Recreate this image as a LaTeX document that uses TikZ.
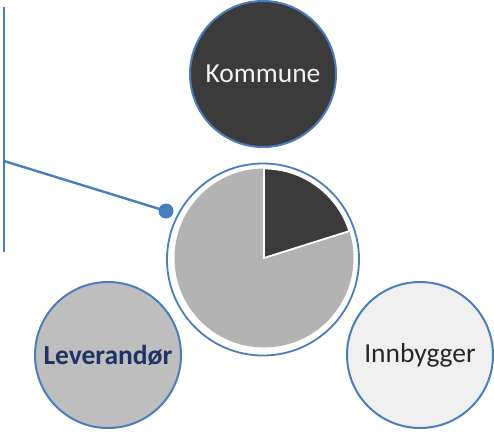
\documentclass[tikz,border=0pt]{standalone}
\usepackage{fontspec}
\setmainfont{Carlito}
\definecolor{officeblue}{HTML}{4A7EBB}
\definecolor{darkfill}{HTML}{3B3B3B}
\definecolor{piegray}{HTML}{B3B3B3}
\definecolor{levfill}{HTML}{BEBEBE}
\definecolor{innfill}{HTML}{F0F0F0}
\definecolor{navytext}{HTML}{1F3264}
\begin{document}
\begin{tikzpicture}[x=1pt,y=-1pt,
  bubble/.style={circle,draw=officeblue,line width=2pt,minimum size=146pt,inner sep=0pt,font=\fontsize{27.5}{30}\selectfont},
  connector/.style={draw=officeblue,line width=2.4pt}]
\useasboundingbox (0,0) rectangle (494,433);
% outer nodes
\node[bubble,fill=darkfill,text=white!95!black] (kommune) at (263,74) {Kommune};
\node[bubble,fill=levfill,text=navytext,font=\fontsize{27.5}{30}\selectfont\bfseries] (lev) at (108,355) {Leverandør};
\node[bubble,fill=innfill,text=black!85] (inn) at (420,355) {Innbygger};
% central pie
\node[circle,draw=officeblue,line width=1.8pt,fill=white,minimum size=192pt,inner sep=0pt] (ring) at (263,259.5) {};
\fill[piegray] (264,258) circle (89.5);
\fill[darkfill,draw=white,line width=1.8pt] (264,258) -- ++(0,-89.5) arc[start angle=-90,end angle=-17.5,radius=89.5] -- cycle;
% connector
\coordinate (vtop) at (4,7);
\coordinate (vbot) at (4,252);
\coordinate (vjoin) at (4,161);
\node[circle,fill=officeblue,minimum size=15pt,inner sep=0pt] (dot) at (166,211) {};
\draw[connector] (vtop) -- (vbot);
\draw[connector] (vjoin) -- (dot.center);
\end{tikzpicture}
\end{document}
